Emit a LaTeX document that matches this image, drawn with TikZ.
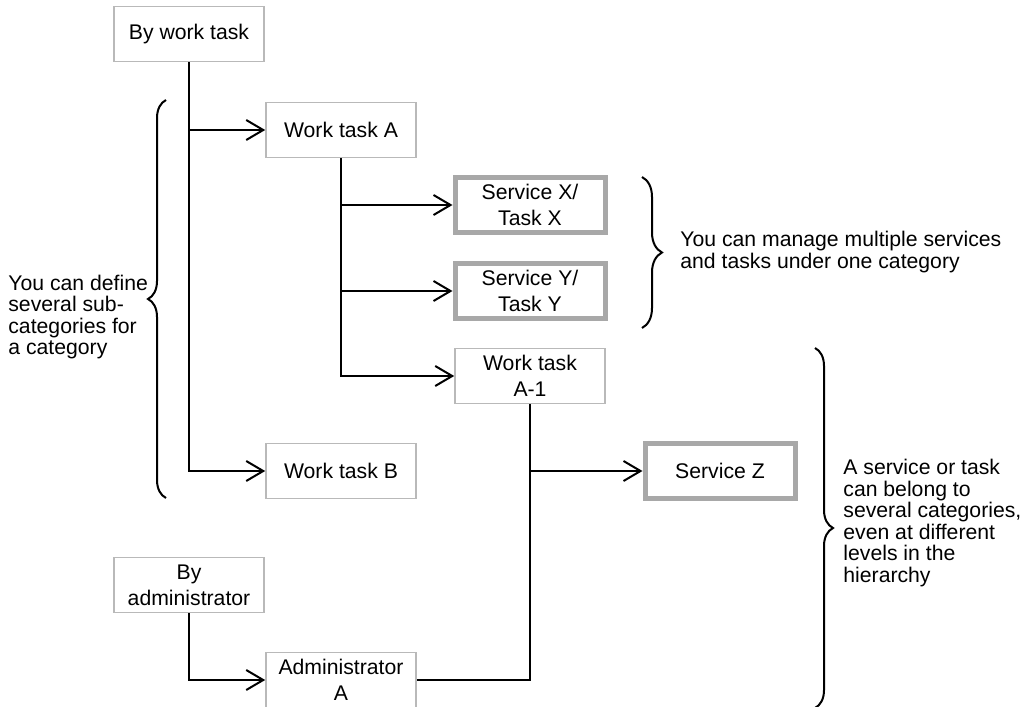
\documentclass[tikz,border=0pt]{standalone}
\usepackage{fontspec}
\setmainfont{Liberation Sans}
\usetikzlibrary{arrows.meta,decorations.pathreplacing}
\definecolor{thinedge}{RGB}{185,185,185}
\definecolor{thickedge}{RGB}{168,168,168}
\begin{document}
\begin{tikzpicture}[x=0.5pt,y=-0.5pt,
  every node/.style={font=\fontsize{10.6}{13}\selectfont},
  box/.style={draw=thinedge,line width=0.8pt,minimum width=75pt,minimum height=27.5pt,
    inner sep=0pt,align=center,fill=white},
  svc/.style={box,draw=thickedge,line width=2.5pt},
  link/.style={line width=1pt,black},
  arr/.style={link,-{Straight Barb[length=8.5pt,width=10pt]}},
  note/.style={align=left,anchor=west,inner sep=0pt,font=\fontsize{10.6}{10.8}\selectfont},
  curly/.style={decorate,decoration={brace,amplitude=#1},line width=1pt}
]
\useasboundingbox (0,0) rectangle (1021,706);

% category boxes
\node[box] (bwt)  at (189,34)  {By work task};
\node[box] (wta)  at (341,130) {Work task A};
\node[box] (wtb)  at (341,471) {Work task B};
\node[svc] (sx)   at (530,205) {Service X/\\Task X};
\node[svc] (sy)   at (530,291) {Service Y/\\Task Y};
\node[box] (a1)   at (530,376) {Work task\\A-1};
\node[svc] (sz)   at (720,471) {Service Z};
\node[box] (badm) at (189,585) {By\\administrator};
\node[box] (adm)  at (341,680) {Administrator\\A};

% hierarchy links
\draw[arr] (bwt.south) |- (wtb.west);
\draw[arr] (bwt.south |- wta.west) -- (wta.west);
\draw[arr] (wta.south) |- (a1.west);
\draw[arr] (wta.south |- sx.west) -- (sx.west);
\draw[arr] (wta.south |- sy.west) -- (sy.west);
\draw[link] (a1.south) |- (adm.east);
\draw[arr] (a1.south |- sz.west) -- (sz.west);
\draw[arr] (badm.south) |- (adm.west);

% annotations
\coordinate (lb1) at (166,498);
\coordinate (lb2) at (166,100);
\draw[curly=9pt] (lb1) -- (lb2);
\node[note] (lnote) at (8,317) {You can define\\several sub-\\categories for\\a category};

\coordinate (rb1) at (642,177);
\coordinate (rb2) at (642,328);
\draw[curly=10pt] (rb1) -- (rb2);
\node[note] (rnote1) at (680,252) {You can manage multiple services\\and tasks under one category};

\coordinate (rc1) at (815,348);
\coordinate (rc2) at (815,708);
\draw[curly=9pt] (rc1) -- (rc2);
\node[note] (rnote2) at (843,523) {A service or task\\can belong to\\several categories,\\even at different\\levels in the\\hierarchy};
\end{tikzpicture}
\end{document}
